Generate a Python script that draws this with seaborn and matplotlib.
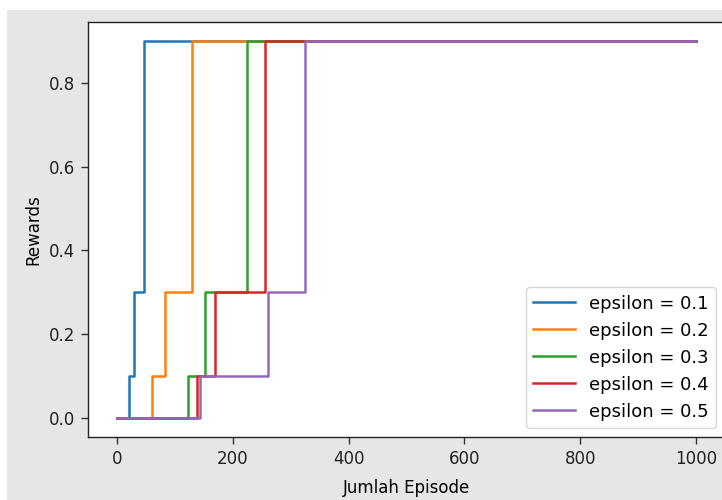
import matplotlib
matplotlib.use("Agg")
import matplotlib.pyplot as plt
import seaborn as sns
import pandas as pd
from matplotlib.patches import Rectangle

# Breakpoints of each step series (episode where value changes)
ep_01 = [0, 21, 29, 47, 1000]
ep_02 = [0, 60, 83, 129, 1000]
ep_03 = [0, 123, 152, 224, 1000]
ep_04 = [0, 138, 169, 255, 1000]
ep_05 = [0, 144, 260, 324, 1000]
rewards = [0.0, 0.1, 0.3, 0.9, 0.9]
labels = ["epsilon = 0.1", "epsilon = 0.2", "epsilon = 0.3", "epsilon = 0.4", "epsilon = 0.5"]

frames = []
for lab, ep in zip(labels, [ep_01, ep_02, ep_03, ep_04, ep_05]):
    frames.append(pd.DataFrame({"episode": ep, "reward": rewards, "series": lab}))
df = pd.concat(frames, ignore_index=True)

plt.rcParams["font.family"] = ["DejaVu Sans"]
fig = plt.figure(figsize=(7.22, 5.0), dpi=100, facecolor="#e6e6e6")
ax = fig.add_axes([88/722, 63/500, 637/722, 415/500])
ax.set_facecolor("white")

sns.lineplot(data=df, x="episode", y="reward", hue="series", palette="tab10",
             drawstyle="steps-post", linewidth=1.8, ax=ax, estimator=None, sort=False)

ax.set_xlim(-50, 1050)
ax.set_ylim(-0.045, 0.945)
ax.set_xticks([0, 200, 400, 600, 800, 1000])
ax.set_yticks([0.0, 0.2, 0.4, 0.6, 0.8])
ax.set_yticklabels(["0.0", "0.2", "0.4", "0.6", "0.8"])
ax.set_xlabel("Jumlah Episode", fontsize=12, labelpad=8)
ax.set_ylabel("Rewards", fontsize=12, labelpad=5)
ax.tick_params(labelsize=12, length=5, width=1, pad=4, color="#333333", labelcolor="#222222")
for s in ax.spines.values():
    s.set_color("#222222")
    s.set_linewidth(1.0)
ax.legend(loc="lower right", fontsize=13, title=None, handlelength=2.3)

# white screenshot margins
fig.patches.append(Rectangle((0, 490/500), 1, 10/500, transform=fig.transFigure,
                             facecolor="white", edgecolor="none", zorder=-1))
fig.patches.append(Rectangle((0, 0), 7/722, 1, transform=fig.transFigure,
                             facecolor="white", edgecolor="none", zorder=-1))

fig.savefig("out.png", dpi=100, facecolor=fig.get_facecolor())
